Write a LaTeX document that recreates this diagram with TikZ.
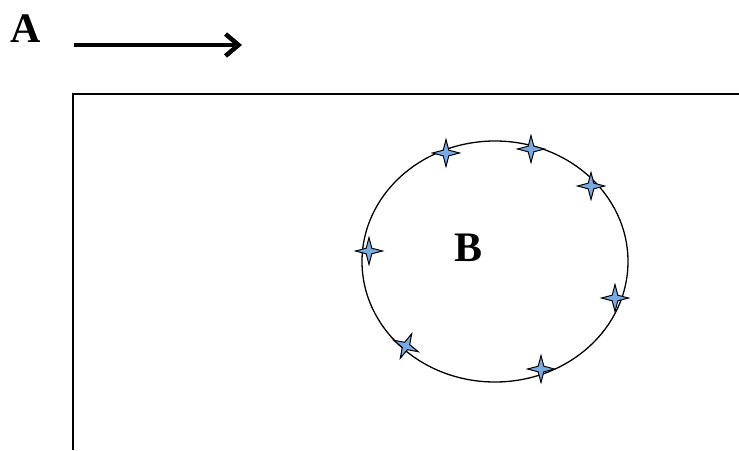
\documentclass[tikz,border=0pt]{standalone}
\usepackage{fontspec}
\setmainfont{Liberation Serif}
\usetikzlibrary{shapes.geometric,arrows.meta}
\definecolor{starblue}{RGB}{120,170,230}
\begin{document}
\begin{tikzpicture}[x=1pt,y=-1pt,
    lbl/.style={font=\fontsize{42}{46}\selectfont\bfseries, inner sep=0pt},
    spark/.style={star, star points=4, star point ratio=3.4, minimum size=27pt, inner sep=0pt, draw, line width=1pt, fill=starblue}]
        \useasboundingbox (0,0) rectangle (739,450);
        \node[lbl] (A) at (26,29) {A};
        \coordinate (arrS) at (74,45);
        \coordinate (arrE) at (242,45);
        \draw[line width=4.5pt, -{Straight Barb[length=13pt,width=22pt,line width=4.5pt]}] (arrS) -- (arrE);
        \draw[line width=1.5pt] (73,450) -- (73,94) -- (739,94);
        \node[ellipse, draw, line width=1.3pt, minimum width=266pt, minimum height=241pt, inner sep=0pt, outer sep=0pt] (ring) at (495,261.5) {};
        \node[lbl] (B) at (469,247.5) {B};
        \foreach \pos/\rot [count=\i] in {(446,153)/0, (531,149)/0, (591,186)/0, (369,251)/0, (615,298)/0, (406,346)/-25, (541,369)/0}
            \node[spark, rotate=\rot] (s\i) at \pos {};
    \end{tikzpicture}
\end{document}
